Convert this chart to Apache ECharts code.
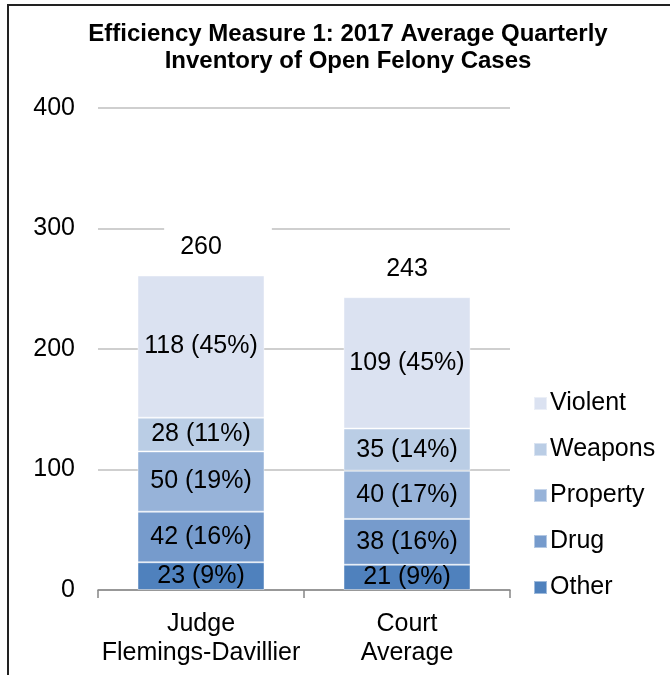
<!DOCTYPE html>
<html>
<head>
<meta charset="utf-8">
<script src="https://cdn.jsdelivr.net/npm/echarts@6/dist/echarts.min.js"></script>
<style>
  html, body { margin: 0; padding: 0; background: #fff; }
  #main { width: 670px; height: 675px; }
</style>
</head>
<body>
<div id="main"></div>
<script>
// chart data
var categories = ['Judge\nFlemings-Davillier', 'Court\nAverage'];
var other = [23, 21];
var drug = [42, 38];
var property = [50, 40];
var weapons = [28, 35];
var violent = [118, 109];
var otherPct = [9, 9];
var drugPct = [16, 16];
var propertyPct = [19, 17];
var weaponsPct = [11, 14];
var violentPct = [45, 45];
var totals = [260, 243];
var yTicks = [0, 100, 200, 300, 400];

var colors = ['#4F81BD', '#769BCC', '#97B3D9', '#BACDE5', '#DBE2F1'];
var font = 'Liberation Sans, Arial, sans-serif';

var chart = echarts.init(document.getElementById('main'));

function seg(name, vals, pcts, color) {
  return {
    name: name,
    type: 'bar',
    stack: 'all',
    barWidth: 127,
    data: vals,
    itemStyle: { color: color, borderColor: 'rgba(255,255,255,0.45)', borderWidth: 1 },
    label: {
      show: true,
      position: 'inside',
      color: '#000',
      fontFamily: font,
      fontSize: 25,
      formatter: function (p) { return p.value + ' (' + pcts[p.dataIndex] + '%)'; }
    }
  };
}

var series = [
  seg('Other', other, otherPct, colors[0]),
  seg('Drug', drug, drugPct, colors[1]),
  seg('Property', property, propertyPct, colors[2]),
  seg('Weapons', weapons, weaponsPct, colors[3]),
  seg('Violent', violent, violentPct, colors[4]),
  {
    // totals on top of the stack
    name: 'Total',
    type: 'bar',
    stack: 'all',
    barWidth: 127,
    data: [0, 0],
    itemStyle: { color: 'transparent' },
    label: {
      show: true,
      position: 'top',
      distance: 7,
      offset: [17, 0],
      color: '#000',
      fontFamily: font,
      fontSize: 25,
      backgroundColor: '#fff',
      padding: [9, 50, 9, 16],
      formatter: function (p) { return totals[p.dataIndex]; }
    }
  }
];

var option = {
  backgroundColor: '#fff',
  animation: false,
  title: {
    text: 'Efficiency Measure 1: 2017 Average Quarterly\nInventory of Open Felony Cases',
    left: 343,
    top: 16,
    textAlign: 'center',
    textStyle: { fontFamily: font, fontSize: 24, fontWeight: 'bold', color: '#000', lineHeight: 27 }
  },
  legend: {
    data: ['Violent', 'Weapons', 'Property', 'Drug', 'Other'],
    orient: 'vertical',
    left: 528,
    top: 386,
    itemWidth: 13,
    itemHeight: 13,
    itemGap: 21,
    icon: 'rect',
    textStyle: { fontFamily: font, fontSize: 25, color: '#000', padding: [0, 0, 0, -2] }
  },
  grid: { left: 98, right: 160, top: 108, bottom: 85 },
  xAxis: {
    type: 'category',
    data: categories,
    axisLine: { lineStyle: { color: '#868686', width: 1.5 } },
    axisTick: { show: true, length: 8, lineStyle: { color: '#868686', width: 1.5 } },
    axisLabel: { color: '#000', fontFamily: font, fontSize: 25, lineHeight: 29, margin: 20, interval: 0 }
  },
  yAxis: {
    type: 'value',
    min: yTicks[0],
    max: yTicks[yTicks.length - 1],
    interval: 100,
    axisLine: { show: false },
    axisTick: { show: false },
    splitLine: { lineStyle: { color: '#BFBFBF', width: 1.5 } },
    axisLabel: { color: '#000', fontFamily: font, fontSize: 25, margin: 23 }
  },
  graphic: [{
    type: 'polyline',
    shape: { points: [[8, 675], [8, 5], [670, 5]] },
    style: { stroke: '#222', lineWidth: 2, fill: null }
  }],
  series: series
};

chart.setOption(option);
</script>
</body>
</html>
